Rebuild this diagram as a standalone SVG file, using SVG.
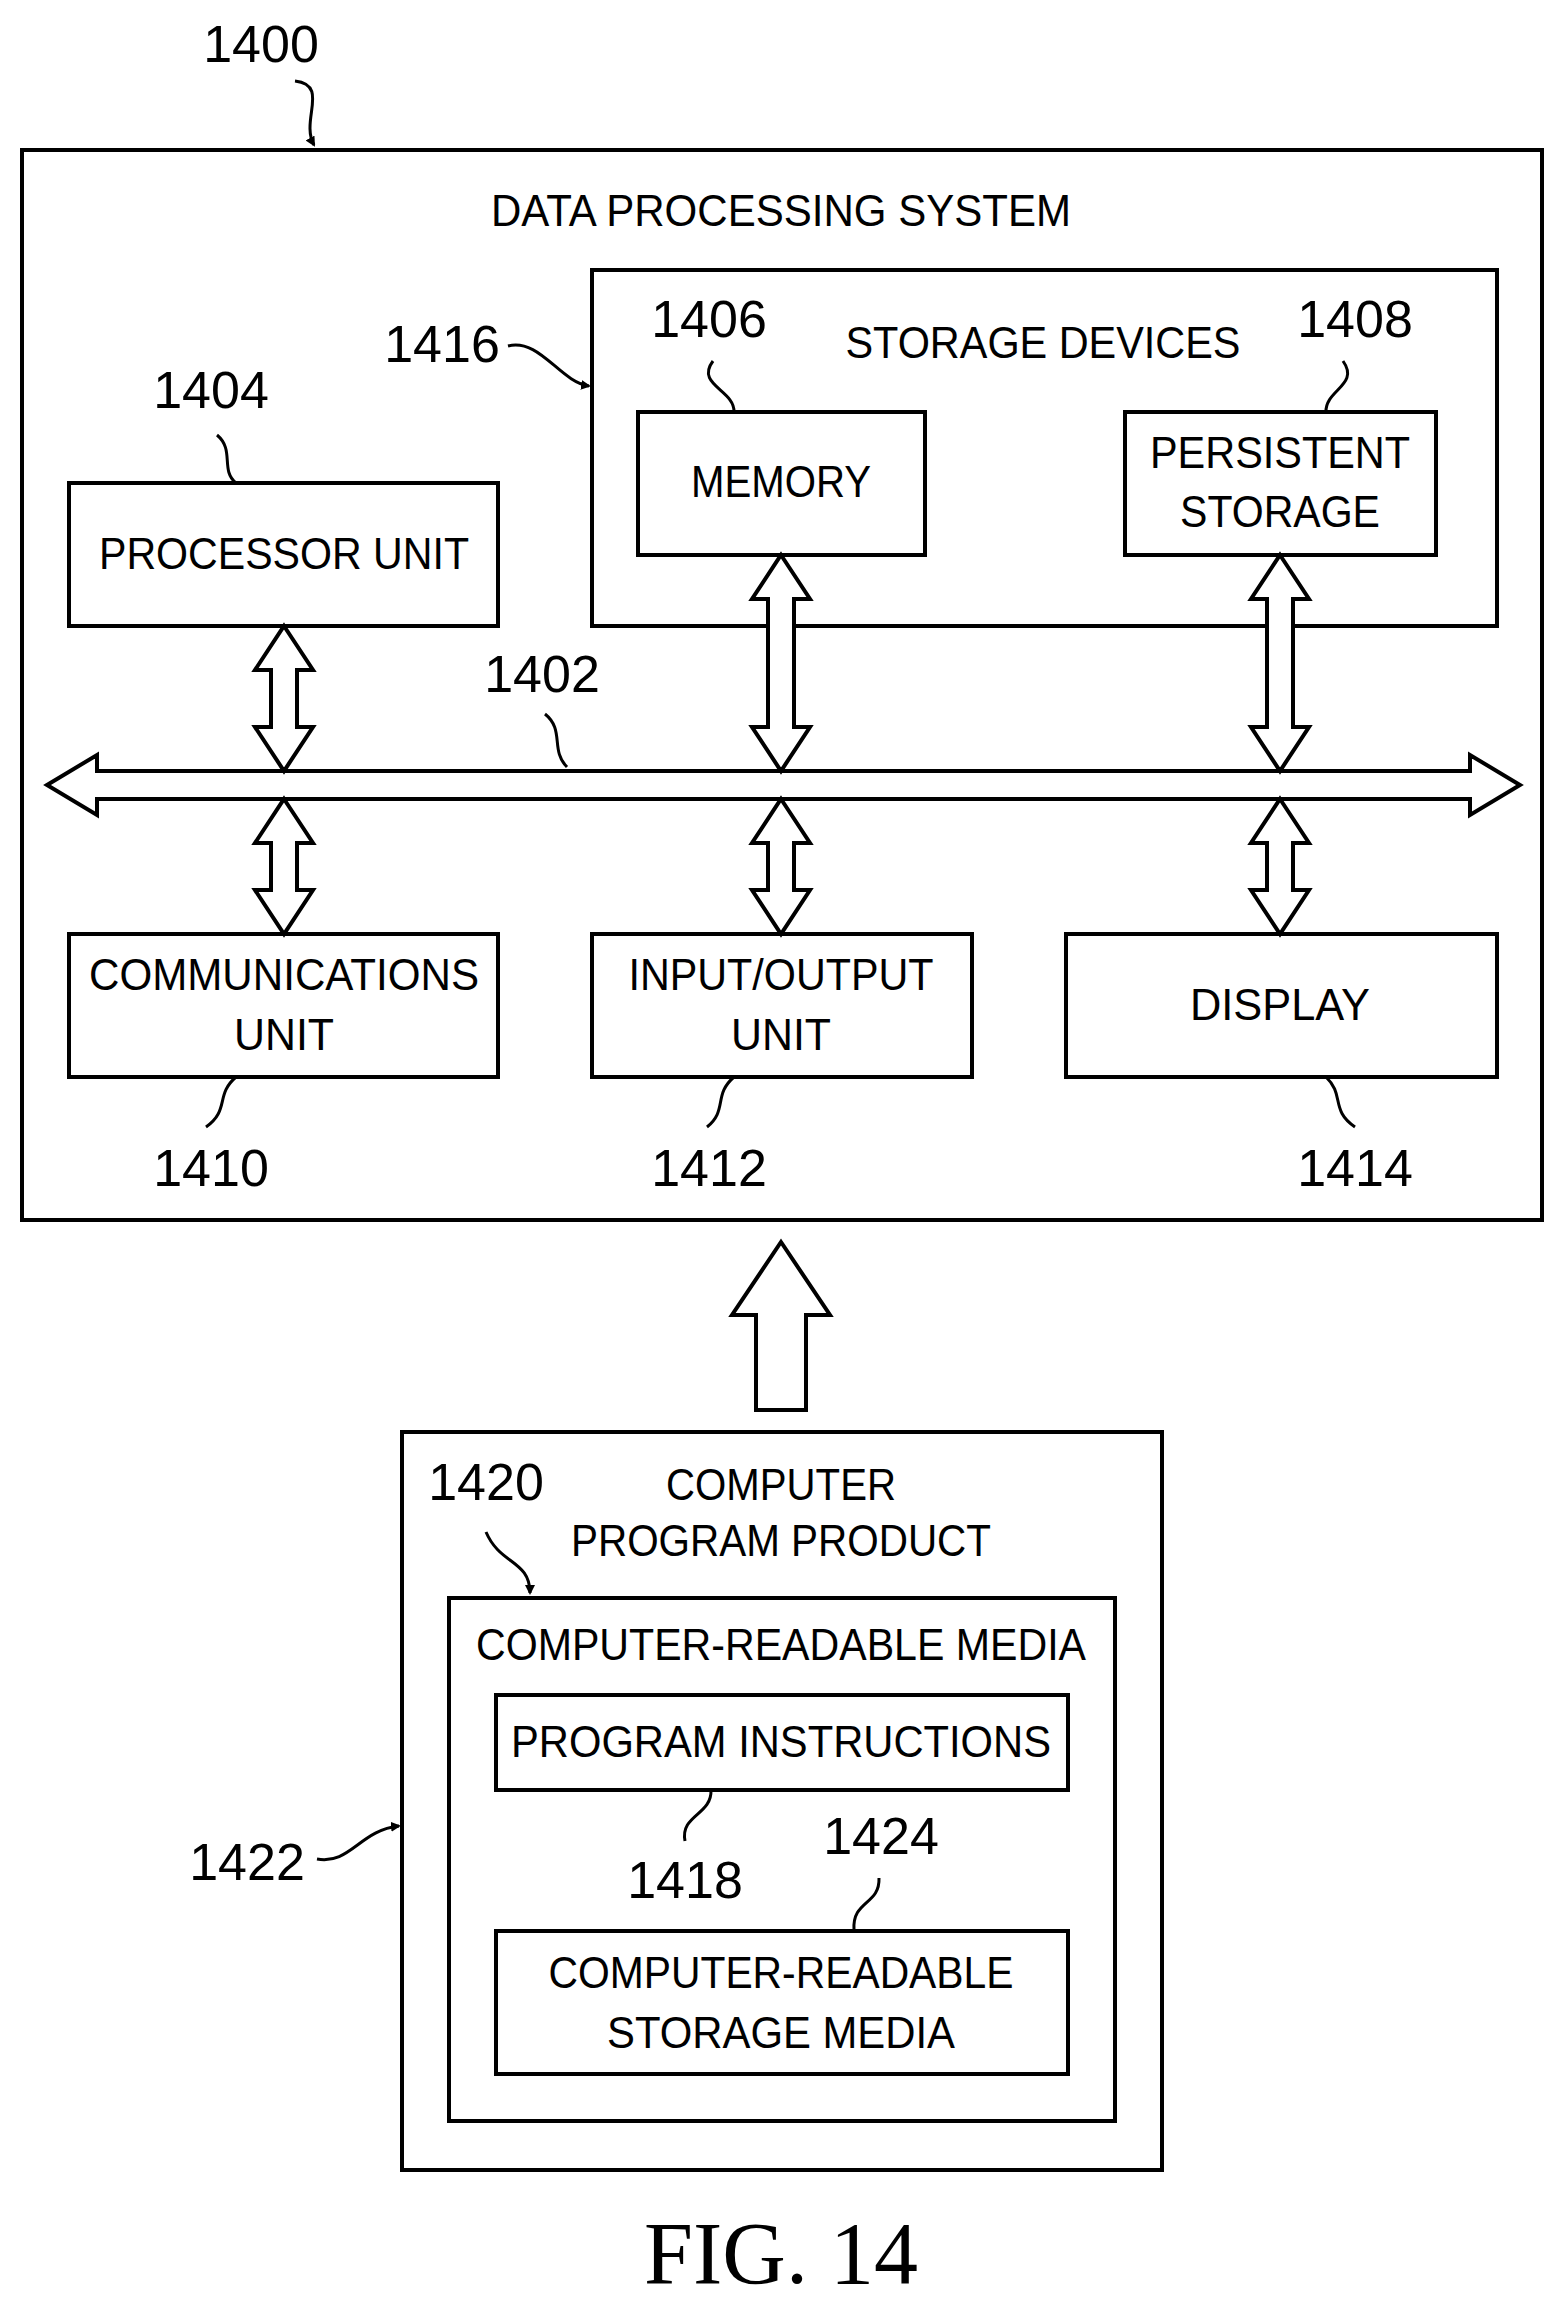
<svg xmlns="http://www.w3.org/2000/svg" width="1557" height="2297" viewBox="0 0 1557 2297">
<style>
.b{fill:#fff;stroke:#000;stroke-width:4}
.a{fill:#fff;stroke:#000;stroke-width:4;stroke-linejoin:miter}
.t{font-family:"Liberation Sans",Arial,sans-serif;font-size:44px;text-anchor:middle;fill:#000}
.n{font-family:"Liberation Sans",Arial,sans-serif;font-size:52px;text-anchor:middle;fill:#000}
.l{fill:none;stroke:#000;stroke-width:3}
</style>
<defs><marker id="ah" markerWidth="10" markerHeight="10" refX="8" refY="5" orient="auto" markerUnits="userSpaceOnUse" viewBox="0 0 10 10"><path d="M0,0 L10,5 L0,10 Z" fill="#000"/></marker></defs>
<rect width="1557" height="2297" fill="#fff"/>
<g id="system">
<rect class="b" x="22" y="150" width="1520" height="1070"/>
<text class="t" x="781" y="226" textLength="580" lengthAdjust="spacingAndGlyphs">DATA PROCESSING SYSTEM</text>
</g>
<g id="storage"><rect class="b" x="592" y="270" width="905" height="356"/>
<text class="t" x="1043" y="358" textLength="395" lengthAdjust="spacingAndGlyphs">STORAGE DEVICES</text></g>
<g id="memory"><rect class="b" x="638" y="412" width="287" height="143"/>
<text class="t" x="781" y="497" textLength="180" lengthAdjust="spacingAndGlyphs">MEMORY</text></g>
<g id="persistent"><rect class="b" x="1125" y="412" width="311" height="143"/>
<text class="t" x="1280" y="468" textLength="260" lengthAdjust="spacingAndGlyphs">PERSISTENT</text>
<text class="t" x="1280" y="527" textLength="200" lengthAdjust="spacingAndGlyphs">STORAGE</text></g>
<g id="processor"><rect class="b" x="69" y="483" width="429" height="143"/>
<text class="t" x="284" y="569" textLength="370" lengthAdjust="spacingAndGlyphs">PROCESSOR UNIT</text></g>
<g id="comm"><rect class="b" x="69" y="934" width="429" height="143"/>
<text class="t" x="284" y="990" textLength="390" lengthAdjust="spacingAndGlyphs">COMMUNICATIONS</text>
<text class="t" x="284" y="1050" textLength="100" lengthAdjust="spacingAndGlyphs">UNIT</text></g>
<g id="io"><rect class="b" x="592" y="934" width="380" height="143"/>
<text class="t" x="781" y="990" textLength="305" lengthAdjust="spacingAndGlyphs">INPUT/OUTPUT</text>
<text class="t" x="781" y="1050" textLength="100" lengthAdjust="spacingAndGlyphs">UNIT</text></g>
<g id="display"><rect class="b" x="1066" y="934" width="431" height="143"/>
<text class="t" x="1280" y="1020" textLength="180" lengthAdjust="spacingAndGlyphs">DISPLAY</text></g>
<g id="product"><rect class="b" x="402" y="1432" width="760" height="738"/>
<text class="t" x="781" y="1500" textLength="230" lengthAdjust="spacingAndGlyphs">COMPUTER</text>
<text class="t" x="781" y="1556" textLength="420" lengthAdjust="spacingAndGlyphs">PROGRAM PRODUCT</text></g>
<g id="media"><rect class="b" x="449" y="1598" width="666" height="523"/>
<text class="t" x="781" y="1660" textLength="610" lengthAdjust="spacingAndGlyphs">COMPUTER-READABLE MEDIA</text></g>
<g id="instructions"><rect class="b" x="496" y="1695" width="572" height="95"/>
<text class="t" x="781" y="1757" textLength="540" lengthAdjust="spacingAndGlyphs">PROGRAM INSTRUCTIONS</text></g>
<g id="storagemedia"><rect class="b" x="496" y="1931" width="572" height="143"/>
<text class="t" x="781" y="1988" textLength="465" lengthAdjust="spacingAndGlyphs">COMPUTER-READABLE</text>
<text class="t" x="781" y="2048" textLength="348" lengthAdjust="spacingAndGlyphs">STORAGE MEDIA</text></g>
<g id="connectors">
<polygon class="a" points="47,785 97,755 97,771 1470,771 1470,755 1520,785 1470,815 1470,799 97,799 97,815"/>
<polygon class="a" points="284,626 313,670 297,670 297,727 313,727 284,771 255,727 271,727 271,670 255,670"/>
<polygon class="a" points="781,555 810,599 794,599 794,727 810,727 781,771 752,727 768,727 768,599 752,599"/>
<polygon class="a" points="1280,555 1309,599 1293,599 1293,727 1309,727 1280,771 1251,727 1267,727 1267,599 1251,599"/>
<polygon class="a" points="284,799 313,843 297,843 297,890 313,890 284,934 255,890 271,890 271,843 255,843"/>
<polygon class="a" points="781,799 810,843 794,843 794,890 810,890 781,934 752,890 768,890 768,843 752,843"/>
<polygon class="a" points="1280,799 1309,843 1293,843 1293,890 1309,890 1280,934 1251,890 1267,890 1267,843 1251,843"/>
<polygon class="a" points="781,1242 830,1315 806,1315 806,1410 756,1410 756,1315 732,1315"/>
<path class="l" d="M295,81 C330,85 300,120 314,145" marker-end="url(#ah)"/>
<path class="l" d="M508,346 C540,338 560,382 589,386" marker-end="url(#ah)"/>
<path class="l" d="M713,361 C695,385 735,390 734,412"/>
<path class="l" d="M1343,361 C1360,385 1325,390 1326,412"/>
<path class="l" d="M217,435 C235,450 220,470 236,483"/>
<path class="l" d="M545,714 C565,730 550,750 567,767"/>
<path class="l" d="M236,1077 C215,1095 230,1110 206,1127"/>
<path class="l" d="M734,1077 C713,1095 728,1110 707,1127"/>
<path class="l" d="M1326,1077 C1345,1095 1330,1110 1355,1127"/>
<path class="l" d="M486,1532 C500,1565 530,1560 530,1593" marker-end="url(#ah)"/>
<path class="l" d="M317,1859 C350,1865 360,1830 399,1826" marker-end="url(#ah)"/>
<path class="l" d="M711,1790 C712,1815 680,1815 685,1841"/>
<path class="l" d="M879,1878 C880,1905 852,1900 854,1930"/>
</g>
<g id="labels">
<text class="n" x="261" y="62">1400</text>
<text class="n" x="442" y="362">1416</text>
<text class="n" x="709" y="337">1406</text>
<text class="n" x="1355" y="337">1408</text>
<text class="n" x="211" y="408">1404</text>
<text class="n" x="542" y="692">1402</text>
<text class="n" x="211" y="1186">1410</text>
<text class="n" x="709" y="1186">1412</text>
<text class="n" x="1355" y="1186">1414</text>
<text class="n" x="486" y="1500">1420</text>
<text class="n" x="247" y="1880">1422</text>
<text class="n" x="685" y="1898">1418</text>
<text class="n" x="881" y="1854">1424</text>
<text x="781" y="2283" font-family="Liberation Serif,'Times New Roman',serif" font-size="88" text-anchor="middle">FIG. 14</text>
</g>
</svg>
